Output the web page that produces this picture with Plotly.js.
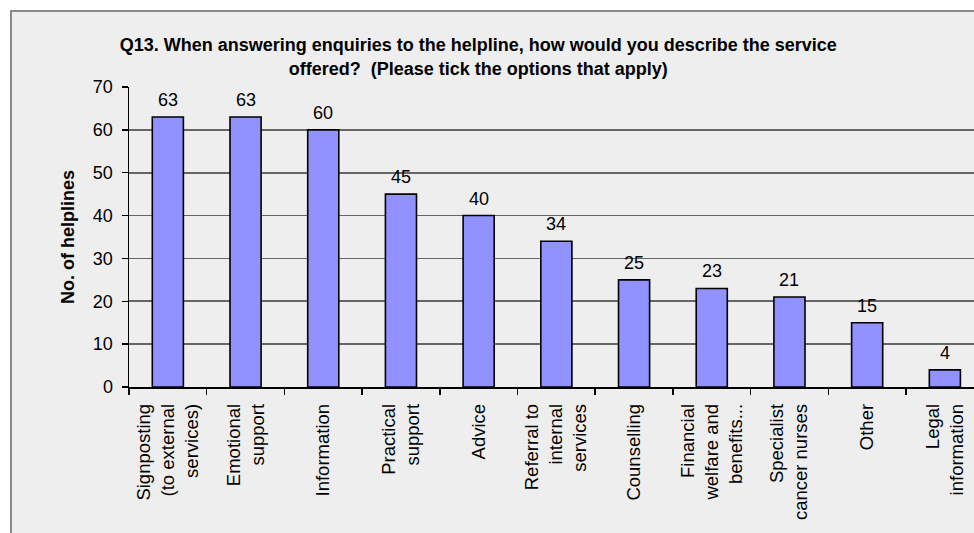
<!DOCTYPE html>
<html>
<head>
<meta charset="utf-8">
<script src="https://cdn.plot.ly/plotly-3.0.1.min.js"></script>
<style>
  html, body { margin: 0; padding: 0; background: #ffffff; }
  #frame { position: absolute; left: 10px; top: 10px; width: 964px; height: 523px;
           background: #eeeeee; border-left: 2px solid #8a8a8a; border-top: 2px solid #8a8a8a; box-sizing: border-box; }
  #chart { position: absolute; left: 0; top: 0; width: 974px; height: 533px; }
</style>
</head>
<body>
<div id="frame"></div>
<div id="chart"></div>
<script>
const categories = [
  "Signposting<br>(to external<br>services)",
  "Emotional<br>support",
  "Information",
  "Practical<br>support",
  "Advice",
  "Referral to<br>internal<br>services",
  "Counselling",
  "Financial<br>welfare and<br>benefits...",
  "Specialist<br>cancer nurses",
  "Other",
  "Legal<br>information"
];
const helplines = [63, 63, 60, 45, 40, 34, 25, 23, 21, 15, 4];
const yTicks = [0, 10, 20, 30, 40, 50, 60, 70];
const titleText = "Q13. When answering enquiries to the helpline, how would you describe the service<br>offered?  (Please tick the options that apply)";
const yTitle = "No. of helplines";

const FONT = "Liberation Sans, Arial, sans-serif";

const trace = {
  type: "bar",
  x: categories,
  y: helplines,
  width: 0.4,
  marker: { color: "#9191ff", line: { color: "#000000", width: 1.6 } },
  hoverinfo: "x+y"
};

const labelAnnotations = categories.map((c, i) => ({
  x: c, y: helplines[i], xref: "x", yref: "y",
  text: String(helplines[i]), showarrow: false,
  yanchor: "bottom", yshift: 5,
  font: { family: FONT, size: 18, color: "#000000" }
}));

const layout = {
  width: 974, height: 533,
  paper_bgcolor: "rgba(0,0,0,0)",
  plot_bgcolor: "rgba(0,0,0,0)",
  margin: { l: 129, r: 0, t: 87, b: 146, pad: 0 },
  font: { family: FONT, color: "#000000" },
  showlegend: false,
  title: {
    text: titleText,
    font: { family: FONT, size: 18, color: "#000000", weight: "bold" },
    x: 0.491, xanchor: "center", xref: "container",
    y: 0.904, yanchor: "middle", yref: "container"
  },
  xaxis: {
    type: "category",
    range: [-0.5, 10.375],
    autorange: false,
    showline: true, linecolor: "#000000", linewidth: 1.5,
    ticks: "outside", tickson: "boundaries", ticklen: 6, tickcolor: "#000000", tickwidth: 1.5,
    tickangle: -90,
    ticklabelstandoff: 8,
    tickfont: { family: FONT, size: 18.5, color: "#000000" },
    showgrid: false, zeroline: false, fixedrange: true
  },
  yaxis: {
    range: [0, 70], autorange: false,
    tickvals: yTicks,
    showline: true, linecolor: "#000000", linewidth: 1.5,
    ticks: "outside", ticklen: 6, tickcolor: "#000000", tickwidth: 1.5,
    ticklabelstandoff: 5,
    tickfont: { family: FONT, size: 18, color: "#000000" },
    showgrid: true, gridcolor: "#666666", gridwidth: 1.6,
    zeroline: false, fixedrange: true,
    title: { text: yTitle, font: { family: FONT, size: 18, color: "#000000", weight: "bold" }, standoff: 13 }
  },
  annotations: labelAnnotations
};

Plotly.newPlot("chart", [trace], layout, { staticPlot: true, displayModeBar: false });
</script>
</body>
</html>
